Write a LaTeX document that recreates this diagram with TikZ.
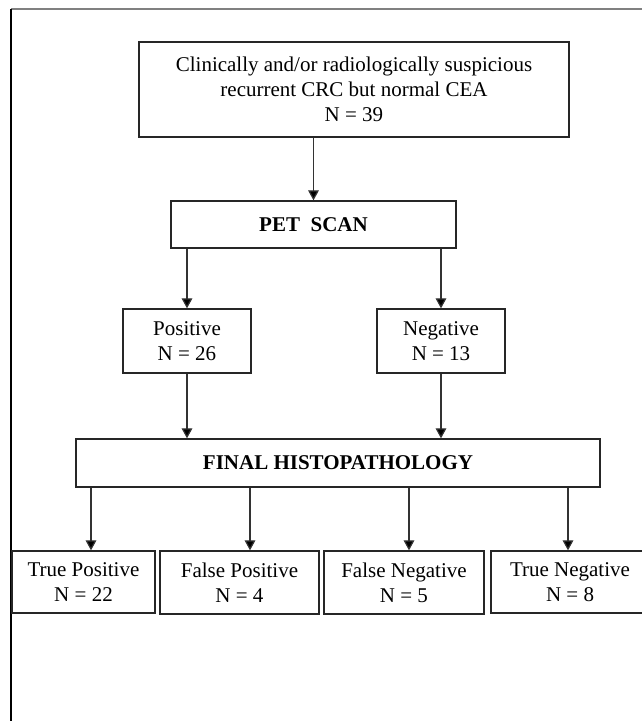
\documentclass[tikz,border=0pt]{standalone}
\usepackage{fontspec}
\setmainfont{Liberation Serif}
\usetikzlibrary{arrows.meta}
\begin{document}
\begin{tikzpicture}[x=0.75pt,y=-0.75pt,font=\fontsize{15.75}{18.75}\selectfont,
    box/.style={draw=black!85,line width=1pt,align=center,inner sep=0pt},
    arr/.style={draw=black!80,line width=0.9pt,-{Triangle[width=8pt,length=7.5pt,fill=black]}}]
    \useasboundingbox (0,0) rectangle (642,721);
    \clip (0,0) rectangle (642,721);
    % page frame
    \draw[gray,line width=0.8pt] (11,9)--(642,9);
    \draw[line width=1pt] (11,9)--(11,721);
    % boxes
    \node[box,minimum width=322.5pt,minimum height=71.25pt] (suspect) at (354,89.5) {Clinically and/or radiologically suspicious\\recurrent CRC but normal CEA\\N = 39};
    \node[box,minimum width=213.75pt,minimum height=35.25pt] (pet) at (313.5,224.5) {\textbf{PET~ SCAN}};
    \node[box,minimum width=96pt,minimum height=48pt] (pos) at (187,341) {Positive\\N = 26};
    \node[box,minimum width=96pt,minimum height=48pt] (neg) at (441,341) {Negative\\N = 13};
    \node[box,minimum width=393pt,minimum height=36pt] (final) at (338,463) {\textbf{FINAL HISTOPATHOLOGY}};
    \node[box,minimum width=107.25pt,minimum height=46.5pt] (tp) at (83.5,582) {True Positive\\N = 22};
    \node[box,minimum width=119.25pt,minimum height=47.25pt] (fp) at (239.5,582.5) {False Positive\\N = 4};
    \node[box,minimum width=120pt,minimum height=47.25pt] (fn) at (404,582.5) {False Negative\\N = 5};
    \node[box,minimum width=118.5pt,minimum height=46.5pt] (tn) at (570,582) {True Negative\\N = 8};
    % arrows
    \draw[arr] (suspect.south -| pet.north) -- (pet.north);
    \draw[arr] (pet.south -| pos.north) -- (pos.north);
    \draw[arr] (pet.south -| neg.north) -- (neg.north);
    \draw[arr] (pos.south) -- (pos.south |- final.north);
    \draw[arr] (neg.south) -- (neg.south |- final.north);
    \foreach \b/\ax in {tp/91,fp/250,fn/409,tn/568}
    \draw[arr] (final.south -| \ax,0) -- (\b.north -| \ax,0);
\end{tikzpicture}
\end{document}
